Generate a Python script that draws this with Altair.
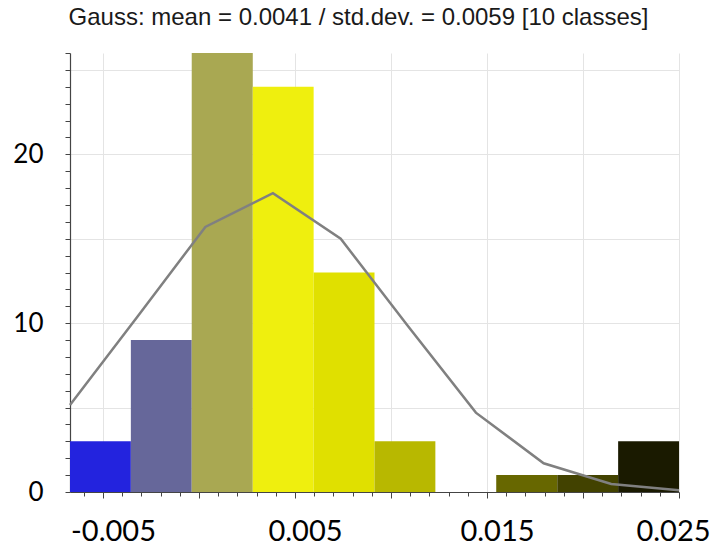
import altair as alt
import pandas as pd

# ---- data ----
bin_edges = [-0.00672, -0.00355, -0.00038, 0.00280, 0.00597, 0.00914,
             0.01231, 0.01548, 0.01866, 0.02183, 0.02500]
counts = [3, 9, 26, 24, 13, 3, 0, 1, 1, 3]
bar_colors = ["#2323de", "#66679a", "#a9a852", "#efef0e", "#e0e000",
              "#b8b800", "#ffffff", "#676700", "#424200", "#1a1a00"]
curve_x = [-0.00672, -0.00320, 0.00033, 0.00385, 0.00738, 0.01090,
           0.01442, 0.01795, 0.02147, 0.02500]
curve_y = [5.15, 10.4, 15.7, 17.7, 15.0, 9.8, 4.7, 1.7, 0.47, 0.1]
title_text = "Gauss: mean = 0.0041 / std.dev. = 0.0059 [10 classes]"

bars_df = pd.DataFrame({"start": bin_edges[:-1], "end": bin_edges[1:],
                        "count": counts, "color": bar_colors})
curve_df = pd.DataFrame({"x": curve_x, "y": curve_y})

x_ticks = [round(-0.006 + 0.001 * i, 3) for i in range(32)]
y_ticks = list(range(27))

x_scale = alt.Scale(domain=[bin_edges[0], bin_edges[-1]], nice=False, zero=False)
y_scale = alt.Scale(domain=[0, 26], nice=False)

x_axis = alt.Axis(
    values=x_ticks, title=None, grid=True,
    gridColor={"condition": {"test": "abs(round(datum.value*1000)) % 5 === 0", "value": "#e4e4e4"},
               "value": "transparent"},
    tickSize={"condition": {"test": "abs(round(datum.value*1000)) % 5 === 0", "value": 6},
              "value": 4},
    labelExpr="abs(round(datum.value*1000)) % 10 === 5 ? (datum.value < 0 ? '-' : '') + format(abs(datum.value), '.3f') : ''",
    labelOverlap=False, labelFlush=False,
    labelOffset={"condition": [{"test": "datum.value > 0.024", "value": -6},
                               {"test": "datum.value <= 0.024", "value": 10}],
                 "value": 10},
    labelFont="Lato", labelFontSize=29, labelPadding=19, labelColor="#000000",
)
y_axis = alt.Axis(
    values=y_ticks, title=None, grid=True,
    gridColor={"condition": {"test": "datum.value % 5 === 0 && datum.value > 0", "value": "#e4e4e4"},
               "value": "transparent"},
    labelExpr="datum.value % 10 === 0 ? datum.label : ''",
    labelOverlap=False, labelFont="Lato", labelFontSize=26, labelPadding=22,
    tickSize=5, labelColor="#000000",
)

bars = alt.Chart(bars_df).mark_rect().encode(
    x=alt.X("start:Q", scale=x_scale, axis=x_axis),
    x2="end:Q",
    y=alt.Y("count:Q", scale=y_scale, axis=y_axis),
    y2=alt.datum(0),
    color=alt.Color("color:N", scale=None),
)

curve = alt.Chart(curve_df).mark_line(color="#808080", strokeWidth=2.5).encode(
    x=alt.X("x:Q", scale=x_scale, axis=x_axis),
    y=alt.Y("y:Q", scale=y_scale, axis=y_axis),
)

chart = alt.layer(bars, curve).properties(
    width=609, height=439,
    autosize=alt.AutoSizeParams(type="none"),
    padding={"left": 70, "top": 53, "right": 47, "bottom": 57},
    title=alt.TitleParams(title_text, font="Liberation Sans", fontSize=24,
                          fontWeight="normal", color="#1a1a1a", anchor="middle",
                          frame="group", dx=-16, dy=9, offset=0, baseline="alphabetic"),
).configure_view(stroke=None).configure_axis(
    domainColor="#444444", tickColor="#444444", domainWidth=1.2, gridWidth=1,
)

chart.save("out.html", embed_options={"renderer": "svg", "actions": False})
